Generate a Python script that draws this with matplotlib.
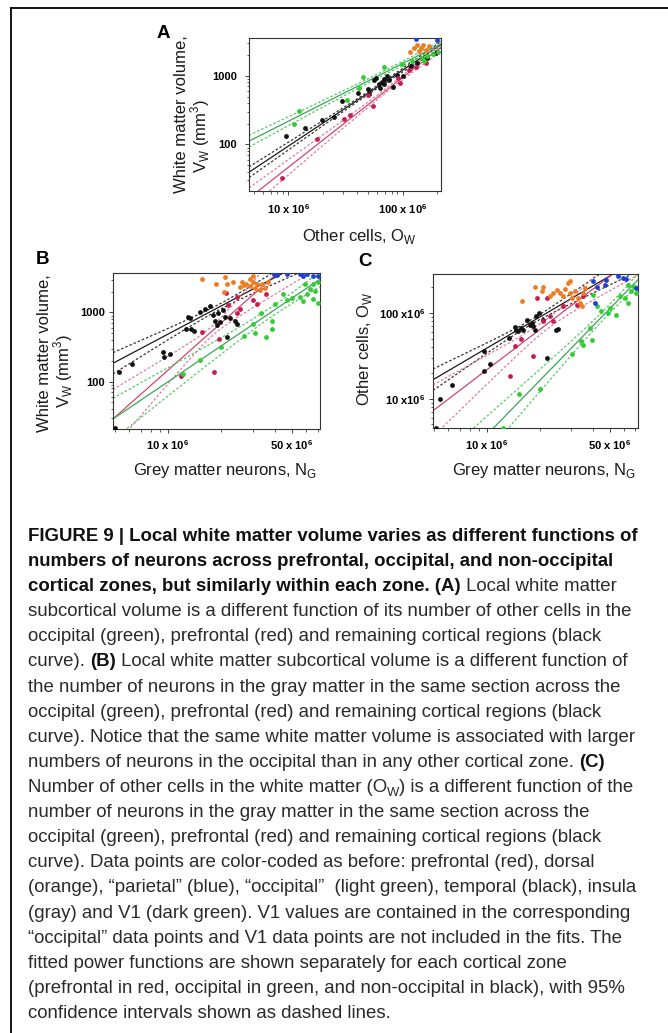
import numpy as np
import matplotlib.pyplot as plt
from matplotlib.lines import Line2D
from matplotlib.ticker import NullFormatter

plt.rcParams['font.family'] = ['Liberation Sans', 'DejaVu Sans']

W, H = 668, 1033

# ---- panel A: white matter volume (mm3) vs other cells (x 10^6)
a_black_x = [9.5, 14.0, 19.7, 25.2, 29.4, 40.3, 50.7, 50.0, 55.7, 58.9, 61.8, 63.9, 66.1, 68.4,
             69.3, 73.2, 75.7, 82.0, 89.7, 101, 118, 135, 165, 196]
a_black_y = [135, 175, 224, 251, 426, 570, 545, 646, 874, 946, 755, 675, 826, 755,
             904, 1011, 874, 698, 1034, 1011, 1370, 1530, 1815, 2150]
a_red_x = [8.73, 17.9, 30.9, 34.9, 49.6, 55.0, 91.6, 94.0, 114, 130, 160]
a_red_y = [32.5, 121, 232, 272, 527, 360, 946, 798, 1197, 1324, 1530]
a_green_x = [11.1, 12.5, 32.4, 41.6, 44.9, 69.3, 99.3, 122, 149, 155, 165, 183, 203]
a_green_y = [199, 311, 441, 660, 955, 1340, 1500, 1620, 1815, 1660, 1920, 2075, 2220]
a_orange_x = [116, 126, 135, 140, 144, 152, 160, 171]
a_orange_y = [2190, 2540, 2780, 2270, 2540, 2840, 2400, 2690]
a_blue_x = [130, 200]
a_blue_y = [3480, 3370]

# ---- panel B: white matter volume (mm3) vs grey matter neurons (x 10^6)
b_black_x = [5.01, 5.28, 6.22, 9.37, 9.45, 10.3, 12.6, 12.9, 13.3, 13.4, 14.0, 15.1, 16.1, 17.2,
             18.0, 18.4, 18.8, 19.2, 19.6, 20.5, 21.1, 21.6, 22.3, 23.8, 24.6]
b_black_y = [21.2, 136, 178, 271, 230, 251, 575, 866, 819, 581, 538, 1023, 1142, 1233,
             915, 759, 656, 967, 733, 1080, 866, 436, 819, 759, 680]
b_red_x = [11.9, 15.6, 18.1, 19.5, 21.2, 21.9, 24.4, 24.6, 25.5, 30.3, 31.9, 35.7]
b_red_y = [121, 526, 139, 408, 1923, 1276, 1682, 967, 1142, 1541, 1349, 1879]
b_green_x = [12.2, 15.1, 20.0, 26.8, 30.3, 31.0, 33.7, 35.7, 38.5, 38.8, 40.2, 44.8, 46.8, 49.9,
             55.6, 58.1, 59.4, 61.2, 63.4, 65.6, 66.2, 67.6, 70.6, 70.6]
b_green_y = [129, 205, 320, 456, 680, 498, 967, 436, 759, 581, 1349, 1879, 1507, 1629,
             1682, 1473, 2618, 1879, 2218, 2618, 1592, 2032, 2767, 1377]
b_orange_x = [15.5, 18.6, 20.7, 20.9, 21.4, 23.3, 25.5, 26.0, 26.8, 27.7, 29.0, 29.2, 30.3, 30.3,
              31.0, 31.9, 33.0, 34.0, 35.3, 36.8]
b_orange_y = [3027, 2563, 1986, 3267, 2618, 2767, 2344, 2767, 2477, 2618, 3090, 2399, 2767, 3342,
              2296, 2618, 2148, 2563, 2296, 2742]
b_blue_x = [39.6, 41.4, 46.8, 55.6, 57.5, 61.2, 65.6, 70.6]
b_blue_y = [3648, 3491, 3648, 3573, 3420, 3573, 3420, 3342]

# ---- panel C: other cells (x 10^6) vs grey matter neurons (x 10^6)
c_black_x = [5.12, 5.43, 6.33, 9.66, 9.66, 10.4, 13.3, 14.5, 14.7, 15.1, 15.6, 16.1, 16.9, 17.5,
             18.0, 18.4, 18.8, 19.0, 19.9, 21.0, 22.1, 24.7, 25.5]
c_black_y = [4.6, 9.9, 14.6, 20.8, 35.7, 25.6, 51.1, 68.7, 63.9, 61.1, 66.8, 63.9, 83.6, 73.1,
             76.4, 69.8, 63.9, 91.5, 100, 82.1, 29.9, 63.9, 65.0]
c_red_x = [13.6, 14.5, 15.6, 18.2, 19.2, 21.0, 21.9, 22.8, 23.7, 27.2, 32.4, 35.3]
c_red_y = [18.2, 40.8, 49.7, 31.2, 150, 80.0, 150, 91.5, 80.0, 120, 125, 157]
c_green_x = [12.4, 15.2, 20.0, 30.6, 34.2, 35.3, 38.5, 39.4, 40.3, 42.1, 44.4, 49.0, 50.0, 54.6,
             57.0, 60.8, 63.5, 63.5, 66.4, 67.9, 70.9]
c_green_y = [4.6, 11.4, 13.0, 33.2, 46.7, 42.7, 66.8, 48.9, 164, 120, 105, 100, 114, 95.7,
             157, 150, 131, 214, 179, 205, 171]
c_orange_x = [15.8, 18.8, 20.5, 21.0, 22.8, 23.9, 24.9, 26.1, 27.2, 27.8, 29.0, 29.7, 29.7, 30.4,
              31.7, 33.1, 33.8, 34.6, 35.3, 36.1]
c_orange_y = [137, 201, 179, 201, 157, 171, 187, 171, 157, 191, 224, 171, 234, 150,
              179, 150, 131, 120, 171, 196]
c_blue_x = [40.3, 41.1, 42.1, 46.9, 47.9, 55.9, 59.6, 62.2, 70.3]
c_blue_y = [234, 131, 201, 214, 245, 268, 256, 250, 196]

# fitted power functions (log10 y = logcoef + slope * log10 x), order: non-occipital, prefrontal, occipital
a_slope = [1.106, 1.308, 0.841]
a_logcoef = [-5.765, -7.488, -3.548]
a_ci_mid = [7.75, 7.90, 7.85]
a_ci_min = [0.02, 0.03, 0.03]
a_ci_grow = [0.069, 0.118, 0.067]

b_slope = [1.360, 2.276, 1.732]
b_logcoef = [-6.833, -13.767, -10.128]
b_ci_mid = [7.29, 7.25, 7.60]
b_ci_min = [0.04, 0.07, 0.07]
b_ci_grow = [0.247, 0.75, 0.32]

c_slope = [1.204, 1.560, 2.106]
c_logcoef = [-0.838, -3.583, -8.164]
c_ci_mid = [7.246, 7.35, 7.70]
c_ci_min = [0.027, 0.06, 0.05]
c_ci_grow = [0.221, 0.45, 0.30]

pt_colors = {'black': '#111111', 'red': '#c81e4e', 'green': '#33cc33',
             'orange': '#ee7d22', 'blue': '#1f3fd0'}
fit_colors = ['#1a1a1a', '#d2466e', '#3aa757']
ci_colors = ['#333333', '#e07a9c', '#55c865']


def fpos(x, y):
    return x / W, 1 - y / H


def box(l, t, r, b):
    return [l / W, 1 - b / H, (r - l) / W, (b - t) / H]


fig = plt.figure(figsize=(W / 100, H / 100), dpi=100)


def draw_panel(ax, points, yfac, slopes, logcoefs, ci_mid, ci_min, ci_grow, xlim, ylim):
    lx = np.linspace(np.log10(xlim[0]), np.log10(xlim[1]), 300)
    for k in range(3):
        ly = logcoefs[k] + slopes[k] * lx
        hw = np.sqrt(ci_min[k] ** 2 + (ci_grow[k] * (lx - ci_mid[k])) ** 2)
        for sgn in (-1, 1):
            ax.plot(10 ** lx, 10 ** (ly + sgn * hw), color=ci_colors[k], lw=0.9,
                    ls=(0, (2, 1.6)), zorder=2)
        ax.plot(10 ** lx, 10 ** ly, color=fit_colors[k], lw=0.9, zorder=2)
    for name, xs, ys in points:
        ax.scatter(np.array(xs) * 1e6, np.array(ys) * yfac, s=12, color=pt_colors[name],
                   linewidths=0, zorder=3)
    ax.set_xscale('log')
    ax.set_yscale('log')
    ax.set_xlim(xlim)
    ax.set_ylim(ylim)
    ax.xaxis.set_minor_formatter(NullFormatter())
    ax.yaxis.set_minor_formatter(NullFormatter())
    ax.tick_params(which='major', length=3.2, width=0.7, color='#444444', labelsize=8)
    ax.tick_params(which='minor', length=1.8, width=0.6, color='#444444')
    for sp in ax.spines.values():
        sp.set_color('#333333')
        sp.set_linewidth(0.8)


sup6 = r'$^{\mathregular{6}}$'

# panel A
axA = fig.add_axes(box(249, 38, 441, 191))
draw_panel(axA, [('black', a_black_x, a_black_y), ('red', a_red_x, a_red_y),
                 ('green', a_green_x, a_green_y), ('orange', a_orange_x, a_orange_y),
                 ('blue', a_blue_x, a_blue_y)], 1,
           a_slope, a_logcoef, a_ci_mid, a_ci_min, a_ci_grow, (4.52e6, 2.17e8), (21, 3560))
axA.set_xticks([1e7, 1e8], labels=['10 x 10' + sup6, '100 x 10' + sup6], fontweight='bold')
axA.set_yticks([100, 1000], labels=['100', '1000'], fontweight='bold')
axA.tick_params(axis='x', pad=5.0)
axA.tick_params(axis='y', pad=5.4)

# panel B
axB = fig.add_axes(box(113, 273, 320, 429))
draw_panel(axB, [('black', b_black_x, b_black_y), ('red', b_red_x, b_red_y),
                 ('green', b_green_x, b_green_y), ('orange', b_orange_x, b_orange_y),
                 ('blue', b_blue_x, b_blue_y)], 1,
           b_slope, b_logcoef, b_ci_mid, b_ci_min, b_ci_grow, (4.89e6, 7.21e7), (20.5, 3735))
axB.set_xticks([1e7, 5e7], labels=['10 x 10' + sup6, '50 x 10' + sup6], fontweight='bold')
axB.set_yticks([100, 1000], labels=['100', '1000'], fontweight='bold')
axB.tick_params(axis='x', pad=3.2)
axB.tick_params(axis='y', pad=2.8)

# panel C
axC = fig.add_axes(box(433, 274, 638, 428))
draw_panel(axC, [('black', c_black_x, c_black_y), ('red', c_red_x, c_red_y),
                 ('green', c_green_x, c_green_y), ('orange', c_orange_x, c_orange_y),
                 ('blue', c_blue_x, c_blue_y)], 1e6,
           c_slope, c_logcoef, c_ci_mid, c_ci_min, c_ci_grow, (4.94e6, 7.24e7), (4.55e6, 2.85e8))
axC.set_xticks([1e7, 5e7], labels=['10 x 10' + sup6, '50 x 10' + sup6], fontweight='bold')
axC.set_yticks([1e7, 1e8], labels=['10 x10' + sup6, '100 x10' + sup6], fontweight='bold')
axC.tick_params(axis='x', pad=4.0)
axC.tick_params(axis='y', pad=2.5)

# panel letters and axis labels
lab = dict(fontsize=12, color='#1a1a1a')
for letter, x, y in [('A', 163, 33), ('B', 43, 260), ('C', 365, 262)]:
    fig.text(*fpos(x, y), letter, fontsize=13.5, fontweight='bold', ha='center', va='center')

vw = r'V$_\mathregular{W}$ (mm$^\mathregular{3}$)'
fig.text(*fpos(182, 193), 'White matter volume,', rotation=90, ha='center', va='bottom', **lab)
fig.text(*fpos(200, 173), vw, rotation=90, ha='center', va='bottom', **lab)
fig.text(*fpos(302, 236), r'Other cells, O$_\mathregular{W}$', ha='left', va='center', **lab)

fig.text(*fpos(45, 432), 'White matter volume,', rotation=90, ha='center', va='bottom', **lab)
fig.text(*fpos(63, 408), vw, rotation=90, ha='center', va='bottom', **lab)
fig.text(*fpos(133, 471), r'Grey matter neurons, N$_\mathregular{G}$', ha='left', va='center', **lab)

fig.text(*fpos(365, 406), r'Other cells, O$_\mathregular{W}$', rotation=90, ha='center', va='bottom', **lab)
fig.text(*fpos(452, 471), r'Grey matter neurons, N$_\mathregular{G}$', ha='left', va='center', **lab)

# frame lines
fig.add_artist(Line2D([11 / W, 11 / W], [0, 1 - 8 / H], color='black', lw=1.3))
fig.add_artist(Line2D([11 / W, 1], [1 - 8 / H, 1 - 8 / H], color='black', lw=1.3))

# caption
caption_lines = [
    [("FIGURE 9 | Local white matter volume varies as different functions of", 'b')],
    [("numbers of neurons across prefrontal, occipital, and non-occipital", 'b')],
    [("cortical zones, but similarly within each zone. (A)", 'b'), (" Local white matter", 'r')],
    [("subcortical volume is a different function of its number of other cells in the", 'r')],
    [("occipital (green), prefrontal (red) and remaining cortical regions (black", 'r')],
    [("curve). ", 'r'), ("(B)", 'b'), (" Local white matter subcortical volume is a different function of", 'r')],
    [("the number of neurons in the gray matter in the same section across the", 'r')],
    [("occipital (green), prefrontal (red) and remaining cortical regions (black", 'r')],
    [("curve). Notice that the same white matter volume is associated with larger", 'r')],
    [("numbers of neurons in the occipital than in any other cortical zone. ", 'r'), ("(C)", 'b')],
    [("Number of other cells in the white matter (O", 'r'), ("W", 's'), (") is a different function of the", 'r')],
    [("number of neurons in the gray matter in the same section across the", 'r')],
    [("occipital (green), prefrontal (red) and remaining cortical regions (black", 'r')],
    [("curve). Data points are color-coded as before: prefrontal (red), dorsal", 'r')],
    [("(orange), \u201cparietal\u201d (blue), \u201coccipital\u201d  (light green), temporal (black), insula", 'r')],
    [("(gray) and V1 (dark green). V1 values are contained in the corresponding", 'r')],
    [("\u201coccipital\u201d data points and V1 data points are not included in the fits. The", 'r')],
    [("fitted power functions are shown separately for each cortical zone", 'r')],
    [("(prefrontal in red, occipital in green, and non-occipital in black), with 95%", 'r')],
    [("confidence intervals shown as dashed lines.", 'r')],
]

cap_size = 13.4
styles = {'b': dict(fontsize=cap_size, fontweight='bold', color='#111111'),
          'r': dict(fontsize=cap_size, color='#2a2a2a'),
          's': dict(fontsize=cap_size * 0.7, color='#2a2a2a')}
renderer = fig.canvas.get_renderer()


def advance(s, kw):
    t1 = fig.text(0, 0, s + '|', **kw)
    t2 = fig.text(0, 0, '|', **kw)
    w = t1.get_window_extent(renderer).width - t2.get_window_extent(renderer).width
    t1.remove()
    t2.remove()
    return w


for i, parts in enumerate(caption_lines):
    base = 541 + 25.1 * i
    x = 28.0
    for s, st in parts:
        dy = 4 if st == 's' else 0
        fig.text(*fpos(x, base + dy), s, ha='left', va='baseline', **styles[st])
        x += advance(s, styles[st])

fig.savefig('out.png', dpi=100)
